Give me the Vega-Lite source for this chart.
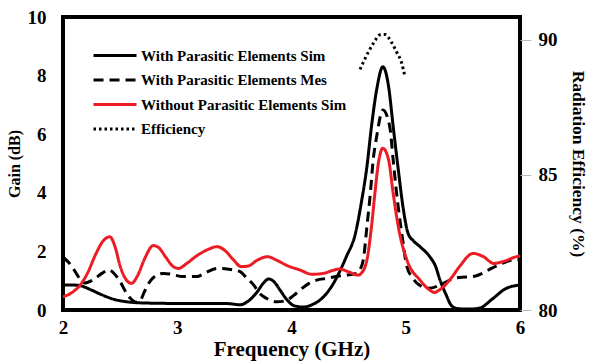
{
  "$schema": "https://vega.github.io/schema/vega-lite/v6.json",
  "width": 457,
  "height": 293,
  "autosize": "none",
  "padding": {"left": 63, "top": 17, "right": 72, "bottom": 53},
  "background": "white",
  "config": {
    "view": {"stroke": "black", "strokeWidth": 4},
    "font": "Liberation Serif",
    "axis": {"labelColor": "black", "titleColor": "black", "labelFontWeight": "bold", "titleFontWeight": "bold", "grid": false, "domain": false}
  },
  "datasets": {
    "gain": [
      {"series": "With Parasitic Elements Sim", "freq": 2.00, "gain": 0.85},
      {"series": "With Parasitic Elements Sim", "freq": 2.10, "gain": 0.85},
      {"series": "With Parasitic Elements Sim", "freq": 2.16, "gain": 0.82},
      {"series": "With Parasitic Elements Sim", "freq": 2.25, "gain": 0.68},
      {"series": "With Parasitic Elements Sim", "freq": 2.35, "gain": 0.50},
      {"series": "With Parasitic Elements Sim", "freq": 2.45, "gain": 0.36},
      {"series": "With Parasitic Elements Sim", "freq": 2.56, "gain": 0.28},
      {"series": "With Parasitic Elements Sim", "freq": 2.70, "gain": 0.24},
      {"series": "With Parasitic Elements Sim", "freq": 2.85, "gain": 0.23},
      {"series": "With Parasitic Elements Sim", "freq": 3.00, "gain": 0.22},
      {"series": "With Parasitic Elements Sim", "freq": 3.20, "gain": 0.22},
      {"series": "With Parasitic Elements Sim", "freq": 3.43, "gain": 0.22},
      {"series": "With Parasitic Elements Sim", "freq": 3.55, "gain": 0.18},
      {"series": "With Parasitic Elements Sim", "freq": 3.62, "gain": 0.30},
      {"series": "With Parasitic Elements Sim", "freq": 3.70, "gain": 0.62},
      {"series": "With Parasitic Elements Sim", "freq": 3.75, "gain": 0.90},
      {"series": "With Parasitic Elements Sim", "freq": 3.80, "gain": 1.06},
      {"series": "With Parasitic Elements Sim", "freq": 3.85, "gain": 0.95},
      {"series": "With Parasitic Elements Sim", "freq": 3.90, "gain": 0.68},
      {"series": "With Parasitic Elements Sim", "freq": 3.96, "gain": 0.35},
      {"series": "With Parasitic Elements Sim", "freq": 4.02, "gain": 0.15},
      {"series": "With Parasitic Elements Sim", "freq": 4.10, "gain": 0.10},
      {"series": "With Parasitic Elements Sim", "freq": 4.18, "gain": 0.18},
      {"series": "With Parasitic Elements Sim", "freq": 4.28, "gain": 0.45},
      {"series": "With Parasitic Elements Sim", "freq": 4.35, "gain": 0.80},
      {"series": "With Parasitic Elements Sim", "freq": 4.42, "gain": 1.30},
      {"series": "With Parasitic Elements Sim", "freq": 4.48, "gain": 1.82},
      {"series": "With Parasitic Elements Sim", "freq": 4.56, "gain": 2.62},
      {"series": "With Parasitic Elements Sim", "freq": 4.61, "gain": 3.64},
      {"series": "With Parasitic Elements Sim", "freq": 4.66, "gain": 4.89},
      {"series": "With Parasitic Elements Sim", "freq": 4.70, "gain": 6.26},
      {"series": "With Parasitic Elements Sim", "freq": 4.745, "gain": 7.51},
      {"series": "With Parasitic Elements Sim", "freq": 4.80, "gain": 8.30},
      {"series": "With Parasitic Elements Sim", "freq": 4.85, "gain": 7.62},
      {"series": "With Parasitic Elements Sim", "freq": 4.89, "gain": 6.26},
      {"series": "With Parasitic Elements Sim", "freq": 4.935, "gain": 4.78},
      {"series": "With Parasitic Elements Sim", "freq": 4.98, "gain": 3.41},
      {"series": "With Parasitic Elements Sim", "freq": 5.02, "gain": 2.62},
      {"series": "With Parasitic Elements Sim", "freq": 5.07, "gain": 2.35},
      {"series": "With Parasitic Elements Sim", "freq": 5.125, "gain": 2.16},
      {"series": "With Parasitic Elements Sim", "freq": 5.21, "gain": 1.82},
      {"series": "With Parasitic Elements Sim", "freq": 5.26, "gain": 1.50},
      {"series": "With Parasitic Elements Sim", "freq": 5.30, "gain": 1.02},
      {"series": "With Parasitic Elements Sim", "freq": 5.35, "gain": 0.55},
      {"series": "With Parasitic Elements Sim", "freq": 5.40, "gain": 0.15},
      {"series": "With Parasitic Elements Sim", "freq": 5.45, "gain": 0.05},
      {"series": "With Parasitic Elements Sim", "freq": 5.55, "gain": 0.03},
      {"series": "With Parasitic Elements Sim", "freq": 5.65, "gain": 0.07},
      {"series": "With Parasitic Elements Sim", "freq": 5.75, "gain": 0.35},
      {"series": "With Parasitic Elements Sim", "freq": 5.88, "gain": 0.74},
      {"series": "With Parasitic Elements Sim", "freq": 6.00, "gain": 0.85},

      {"series": "With Parasitic Elements Mes", "freq": 2.00, "gain": 1.80},
      {"series": "With Parasitic Elements Mes", "freq": 2.05, "gain": 1.62},
      {"series": "With Parasitic Elements Mes", "freq": 2.10, "gain": 1.35},
      {"series": "With Parasitic Elements Mes", "freq": 2.15, "gain": 1.05},
      {"series": "With Parasitic Elements Mes", "freq": 2.19, "gain": 0.92},
      {"series": "With Parasitic Elements Mes", "freq": 2.26, "gain": 1.02},
      {"series": "With Parasitic Elements Mes", "freq": 2.34, "gain": 1.25},
      {"series": "With Parasitic Elements Mes", "freq": 2.40, "gain": 1.37},
      {"series": "With Parasitic Elements Mes", "freq": 2.46, "gain": 1.19},
      {"series": "With Parasitic Elements Mes", "freq": 2.50, "gain": 0.97},
      {"series": "With Parasitic Elements Mes", "freq": 2.54, "gain": 0.68},
      {"series": "With Parasitic Elements Mes", "freq": 2.59, "gain": 0.40},
      {"series": "With Parasitic Elements Mes", "freq": 2.64, "gain": 0.27},
      {"series": "With Parasitic Elements Mes", "freq": 2.68, "gain": 0.35},
      {"series": "With Parasitic Elements Mes", "freq": 2.71, "gain": 0.60},
      {"series": "With Parasitic Elements Mes", "freq": 2.75, "gain": 0.91},
      {"series": "With Parasitic Elements Mes", "freq": 2.82, "gain": 1.19},
      {"series": "With Parasitic Elements Mes", "freq": 2.88, "gain": 1.25},
      {"series": "With Parasitic Elements Mes", "freq": 2.95, "gain": 1.22},
      {"series": "With Parasitic Elements Mes", "freq": 3.05, "gain": 1.14},
      {"series": "With Parasitic Elements Mes", "freq": 3.17, "gain": 1.14},
      {"series": "With Parasitic Elements Mes", "freq": 3.25, "gain": 1.28},
      {"series": "With Parasitic Elements Mes", "freq": 3.35, "gain": 1.42},
      {"series": "With Parasitic Elements Mes", "freq": 3.45, "gain": 1.39},
      {"series": "With Parasitic Elements Mes", "freq": 3.55, "gain": 1.31},
      {"series": "With Parasitic Elements Mes", "freq": 3.61, "gain": 1.08},
      {"series": "With Parasitic Elements Mes", "freq": 3.67, "gain": 0.85},
      {"series": "With Parasitic Elements Mes", "freq": 3.72, "gain": 0.57},
      {"series": "With Parasitic Elements Mes", "freq": 3.78, "gain": 0.40},
      {"series": "With Parasitic Elements Mes", "freq": 3.87, "gain": 0.28},
      {"series": "With Parasitic Elements Mes", "freq": 3.95, "gain": 0.32},
      {"series": "With Parasitic Elements Mes", "freq": 4.02, "gain": 0.50},
      {"series": "With Parasitic Elements Mes", "freq": 4.08, "gain": 0.70},
      {"series": "With Parasitic Elements Mes", "freq": 4.15, "gain": 0.90},
      {"series": "With Parasitic Elements Mes", "freq": 4.22, "gain": 1.02},
      {"series": "With Parasitic Elements Mes", "freq": 4.31, "gain": 1.08},
      {"series": "With Parasitic Elements Mes", "freq": 4.40, "gain": 1.15},
      {"series": "With Parasitic Elements Mes", "freq": 4.50, "gain": 1.20},
      {"series": "With Parasitic Elements Mes", "freq": 4.57, "gain": 1.25},
      {"series": "With Parasitic Elements Mes", "freq": 4.60, "gain": 1.38},
      {"series": "With Parasitic Elements Mes", "freq": 4.63, "gain": 1.75},
      {"series": "With Parasitic Elements Mes", "freq": 4.66, "gain": 2.84},
      {"series": "With Parasitic Elements Mes", "freq": 4.69, "gain": 3.98},
      {"series": "With Parasitic Elements Mes", "freq": 4.715, "gain": 5.12},
      {"series": "With Parasitic Elements Mes", "freq": 4.745, "gain": 5.91},
      {"series": "With Parasitic Elements Mes", "freq": 4.80, "gain": 6.83},
      {"series": "With Parasitic Elements Mes", "freq": 4.86, "gain": 6.26},
      {"series": "With Parasitic Elements Mes", "freq": 4.89, "gain": 5.12},
      {"series": "With Parasitic Elements Mes", "freq": 4.92, "gain": 3.98},
      {"series": "With Parasitic Elements Mes", "freq": 4.965, "gain": 2.62},
      {"series": "With Parasitic Elements Mes", "freq": 5.01, "gain": 1.48},
      {"series": "With Parasitic Elements Mes", "freq": 5.06, "gain": 1.10},
      {"series": "With Parasitic Elements Mes", "freq": 5.10, "gain": 0.91},
      {"series": "With Parasitic Elements Mes", "freq": 5.20, "gain": 0.74},
      {"series": "With Parasitic Elements Mes", "freq": 5.30, "gain": 0.85},
      {"series": "With Parasitic Elements Mes", "freq": 5.40, "gain": 1.05},
      {"series": "With Parasitic Elements Mes", "freq": 5.49, "gain": 1.12},
      {"series": "With Parasitic Elements Mes", "freq": 5.59, "gain": 1.14},
      {"series": "With Parasitic Elements Mes", "freq": 5.67, "gain": 1.25},
      {"series": "With Parasitic Elements Mes", "freq": 5.75, "gain": 1.42},
      {"series": "With Parasitic Elements Mes", "freq": 5.85, "gain": 1.60},
      {"series": "With Parasitic Elements Mes", "freq": 5.94, "gain": 1.71},
      {"series": "With Parasitic Elements Mes", "freq": 6.00, "gain": 1.72},

      {"series": "Without Parasitic Elements Sim", "freq": 2.00, "gain": 0.45},
      {"series": "Without Parasitic Elements Sim", "freq": 2.08, "gain": 0.60},
      {"series": "Without Parasitic Elements Sim", "freq": 2.15, "gain": 0.85},
      {"series": "Without Parasitic Elements Sim", "freq": 2.22, "gain": 1.30},
      {"series": "Without Parasitic Elements Sim", "freq": 2.28, "gain": 1.85},
      {"series": "Without Parasitic Elements Sim", "freq": 2.35, "gain": 2.35},
      {"series": "Without Parasitic Elements Sim", "freq": 2.41, "gain": 2.50},
      {"series": "Without Parasitic Elements Sim", "freq": 2.46, "gain": 2.10},
      {"series": "Without Parasitic Elements Sim", "freq": 2.50, "gain": 1.50},
      {"series": "Without Parasitic Elements Sim", "freq": 2.55, "gain": 1.05},
      {"series": "Without Parasitic Elements Sim", "freq": 2.60, "gain": 0.91},
      {"series": "Without Parasitic Elements Sim", "freq": 2.65, "gain": 1.15},
      {"series": "Without Parasitic Elements Sim", "freq": 2.72, "gain": 1.80},
      {"series": "Without Parasitic Elements Sim", "freq": 2.79, "gain": 2.20},
      {"series": "Without Parasitic Elements Sim", "freq": 2.84, "gain": 2.12},
      {"series": "Without Parasitic Elements Sim", "freq": 2.90, "gain": 1.80},
      {"series": "Without Parasitic Elements Sim", "freq": 2.96, "gain": 1.50},
      {"series": "Without Parasitic Elements Sim", "freq": 3.01, "gain": 1.42},
      {"series": "Without Parasitic Elements Sim", "freq": 3.08, "gain": 1.58},
      {"series": "Without Parasitic Elements Sim", "freq": 3.17, "gain": 1.85},
      {"series": "Without Parasitic Elements Sim", "freq": 3.26, "gain": 2.05},
      {"series": "Without Parasitic Elements Sim", "freq": 3.35, "gain": 2.16},
      {"series": "Without Parasitic Elements Sim", "freq": 3.42, "gain": 2.02},
      {"series": "Without Parasitic Elements Sim", "freq": 3.49, "gain": 1.72},
      {"series": "Without Parasitic Elements Sim", "freq": 3.56, "gain": 1.48},
      {"series": "Without Parasitic Elements Sim", "freq": 3.62, "gain": 1.50},
      {"series": "Without Parasitic Elements Sim", "freq": 3.70, "gain": 1.70},
      {"series": "Without Parasitic Elements Sim", "freq": 3.79, "gain": 1.82},
      {"series": "Without Parasitic Elements Sim", "freq": 3.87, "gain": 1.70},
      {"series": "Without Parasitic Elements Sim", "freq": 3.96, "gain": 1.52},
      {"series": "Without Parasitic Elements Sim", "freq": 4.07, "gain": 1.37},
      {"series": "Without Parasitic Elements Sim", "freq": 4.18, "gain": 1.22},
      {"series": "Without Parasitic Elements Sim", "freq": 4.28, "gain": 1.25},
      {"series": "Without Parasitic Elements Sim", "freq": 4.36, "gain": 1.35},
      {"series": "Without Parasitic Elements Sim", "freq": 4.42, "gain": 1.40},
      {"series": "Without Parasitic Elements Sim", "freq": 4.50, "gain": 1.30},
      {"series": "Without Parasitic Elements Sim", "freq": 4.585, "gain": 1.19},
      {"series": "Without Parasitic Elements Sim", "freq": 4.61, "gain": 1.25},
      {"series": "Without Parasitic Elements Sim", "freq": 4.66, "gain": 1.71},
      {"series": "Without Parasitic Elements Sim", "freq": 4.70, "gain": 2.84},
      {"series": "Without Parasitic Elements Sim", "freq": 4.73, "gain": 3.98},
      {"series": "Without Parasitic Elements Sim", "freq": 4.76, "gain": 5.00},
      {"series": "Without Parasitic Elements Sim", "freq": 4.80, "gain": 5.52},
      {"series": "Without Parasitic Elements Sim", "freq": 4.85, "gain": 5.12},
      {"series": "Without Parasitic Elements Sim", "freq": 4.89, "gain": 3.98},
      {"series": "Without Parasitic Elements Sim", "freq": 4.935, "gain": 2.84},
      {"series": "Without Parasitic Elements Sim", "freq": 5.01, "gain": 1.71},
      {"series": "Without Parasitic Elements Sim", "freq": 5.125, "gain": 1.02},
      {"series": "Without Parasitic Elements Sim", "freq": 5.21, "gain": 0.68},
      {"series": "Without Parasitic Elements Sim", "freq": 5.25, "gain": 0.60},
      {"series": "Without Parasitic Elements Sim", "freq": 5.30, "gain": 0.70},
      {"series": "Without Parasitic Elements Sim", "freq": 5.40, "gain": 1.10},
      {"series": "Without Parasitic Elements Sim", "freq": 5.47, "gain": 1.48},
      {"series": "Without Parasitic Elements Sim", "freq": 5.59, "gain": 1.93},
      {"series": "Without Parasitic Elements Sim", "freq": 5.68, "gain": 1.82},
      {"series": "Without Parasitic Elements Sim", "freq": 5.77, "gain": 1.59},
      {"series": "Without Parasitic Elements Sim", "freq": 5.85, "gain": 1.65},
      {"series": "Without Parasitic Elements Sim", "freq": 5.97, "gain": 1.82},
      {"series": "Without Parasitic Elements Sim", "freq": 6.00, "gain": 1.84}
    ],
    "eff": [
      {"series": "Efficiency", "freq": 4.60, "eff": 88.91},
      {"series": "Efficiency", "freq": 4.67, "eff": 89.53},
      {"series": "Efficiency", "freq": 4.72, "eff": 89.90},
      {"series": "Efficiency", "freq": 4.775, "eff": 90.19},
      {"series": "Efficiency", "freq": 4.82, "eff": 90.20},
      {"series": "Efficiency", "freq": 4.877, "eff": 89.90},
      {"series": "Efficiency", "freq": 4.925, "eff": 89.51},
      {"series": "Efficiency", "freq": 4.965, "eff": 89.14},
      {"series": "Efficiency", "freq": 4.99, "eff": 88.70}
    ]
  },
  "layer": [
    {
      "data": {"name": "gain"},
      "mark": {"type": "line", "strokeWidth": 3, "interpolate": "monotone"},
      "encoding": {
        "x": {
          "field": "freq", "type": "quantitative",
          "scale": {"domain": [2, 6], "nice": false},
          "axis": {"values": [2, 3, 4, 5, 6], "format": "d", "ticks": false, "labelFont": "Liberation Serif", "labelFontWeight": "bold", "labelColor": "black", "labelFontSize": 19, "labelPadding": 8, "labelFlush": false, "title": "Frequency (GHz)", "titleFont": "Liberation Serif", "titleFontWeight": "bold", "titleColor": "black", "titleFontSize": 21, "titlePadding": 1}
        },
        "y": {
          "field": "gain", "type": "quantitative",
          "scale": {"domain": [0, 10], "nice": false},
          "axis": {"values": [0, 2, 4, 6, 8, 10], "format": "d", "ticks": false, "labelFont": "Liberation Serif", "labelFontWeight": "bold", "labelColor": "black", "labelFontSize": 19, "labelPadding": 17, "labelFlush": false, "title": "Gain (dB)", "titleFont": "Liberation Serif", "titleFontWeight": "bold", "titleColor": "black", "titleFontSize": 16, "titlePadding": 5}
        },
        "color": {
          "field": "series", "type": "nominal",
          "scale": {
            "domain": ["With Parasitic Elements Sim", "With Parasitic Elements Mes", "Without Parasitic Elements Sim", "Efficiency"],
            "range": ["black", "black", "#ec1c24", "black"]
          },
          "legend": {
            "orient": "none", "legendX": 29, "legendY": 31, "title": null, "padding": 0,
            "symbolType": "stroke", "symbolSize": 1849, "symbolStrokeWidth": 3,
            "clipHeight": 15, "rowPadding": 8.5, "labelOffset": 3,
            "labelFont": "Liberation Serif", "labelFontWeight": "bold", "labelFontSize": 15, "labelColor": "black", "labelLimit": 400
          }
        },
        "strokeDash": {
          "field": "series", "type": "nominal",
          "scale": {
            "domain": ["With Parasitic Elements Sim", "With Parasitic Elements Mes", "Without Parasitic Elements Sim", "Efficiency"],
            "range": [[1, 0], [10, 6], [1, 0], [2.5, 3]]
          }
        }
      }
    },
    {
      "data": {"name": "eff"},
      "mark": {"type": "line", "strokeWidth": 3, "interpolate": "monotone"},
      "encoding": {
        "x": {"field": "freq", "type": "quantitative"},
        "y": {
          "field": "eff", "type": "quantitative",
          "scale": {"domain": [80, 90.85], "nice": false},
          "axis": {"orient": "right", "values": [80, 85, 90], "format": "d", "ticks": true, "tickColor": "#bbbbbb", "tickSize": 11, "tickWidth": 1, "labelFont": "Liberation Serif", "labelFontWeight": "bold", "labelColor": "black", "labelFontSize": 19, "labelPadding": 7, "labelFlush": false, "title": "Radiation Efficiency (%)", "titleFont": "Liberation Serif", "titleFontWeight": "bold", "titleColor": "black", "titleFontSize": 17.5, "titlePadding": 11}
        },
        "color": {"field": "series", "type": "nominal"},
        "strokeDash": {"field": "series", "type": "nominal"}
      }
    }
  ],
  "resolve": {"scale": {"y": "independent"}}
}
